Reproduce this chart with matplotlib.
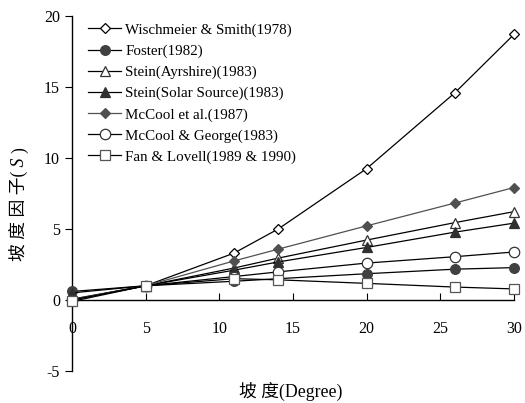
import numpy as np
import matplotlib
matplotlib.use('Agg')
from matplotlib import pyplot as plt

plt.rcParams['font.family'] = ['Liberation Serif', 'Noto Sans CJK SC']
plt.rcParams['axes.unicode_minus'] = False

degree = [0, 5, 11, 14, 20, 26, 30]

wischmeier = [0.06, 1.0, 3.3, 5.0, 9.25, 14.6, 18.7]
foster = [0.6, 1.0, 1.32, 1.5, 1.85, 2.17, 2.28]
stein_ayr = [0.0, 1.0, 2.25, 2.95, 4.22, 5.45, 6.22]
stein_solar = [0.5, 1.0, 2.1, 2.68, 3.7, 4.78, 5.41]
mccool = [0.03, 1.0, 2.75, 3.58, 5.22, 6.83, 7.92]
mccool_george = [0.0, 1.0, 1.65, 1.98, 2.6, 3.05, 3.38]
fan_lovell = [-0.1, 1.0, 1.5, 1.42, 1.17, 0.91, 0.78]

labels = ['Wischmeier & Smith(1978)', 'Foster(1982)', 'Stein(Ayrshire)(1983)',
          'Stein(Solar Source)(1983)', 'McCool et al.(1987)', 'McCool & George(1983)',
          'Fan & Lovell(1989 & 1990)']

fig = plt.figure(figsize=(5.25, 4.03), dpi=100)
ax = fig.add_axes([0.137, 0.0794, 0.842, 0.881])

# (data, marker, face, edge, line colour, size)
styles = [
    (wischmeier, 'D', 'white', 'black', 'black', 5.5),
    (foster, 'o', '#404040', '#404040', 'black', 7),
    (stein_ayr, '^', 'white', '#333333', 'black', 7),
    (stein_solar, '^', '#303030', '#303030', 'black', 7),
    (mccool, 'D', '#505050', '#505050', '#505050', 5.5),
    (mccool_george, 'o', 'white', '#333333', 'black', 7.5),
    (fan_lovell, 's', 'white', '#555555', 'black', 7),
]
for (vals, mk, fc, ec, lc, ms), lab in zip(styles, labels):
    ax.plot(degree, vals, color=lc, lw=0.9, marker=mk, markersize=ms,
            markerfacecolor=fc, markeredgecolor=ec, markeredgewidth=0.9,
            label=lab, clip_on=False, zorder=3)

ax.set_xlim(0, 30)
ax.set_ylim(-5, 20)
ax.set_xticks([0, 5, 10, 15, 20, 25, 30])
ax.set_yticks([-5, 0, 5, 10, 15, 20])
ax.spines['top'].set_visible(False)
ax.spines['right'].set_visible(False)
ax.spines['bottom'].set_position(('data', 0))
ax.spines['left'].set_linewidth(1.0)
ax.spines['bottom'].set_linewidth(1.0)
ax.tick_params(axis='x', direction='in', length=5, pad=15, labelsize=11.5)
ax.tick_params(axis='y', direction='out', length=5, labelsize=11.5)

# y label built from pieces so the S can be italic
x_lab = 0.038
y_pix = 403 - 261
r = fig.canvas.get_renderer()
for piece, style in [('坡 度 因 子(', 'normal'), (' S ', 'italic'), (')', 'normal')]:
    t = fig.text(x_lab, y_pix / 403, piece, rotation=90, ha='center', va='bottom',
                 fontsize=12.8, style=style)
    bb = t.get_window_extent(renderer=r)
    y_pix = bb.y1

fig.text(0.553, 0.027, '坡 度(Degree)', ha='center', va='center', fontsize=12.8)

ax.legend(loc='upper left', bbox_to_anchor=(0.017, 1.005), frameon=False,
          fontsize=10.8, handlelength=2.15, labelspacing=0.5, handletextpad=0.3,
          borderaxespad=0.2)

fig.savefig('out.png', dpi=100)
